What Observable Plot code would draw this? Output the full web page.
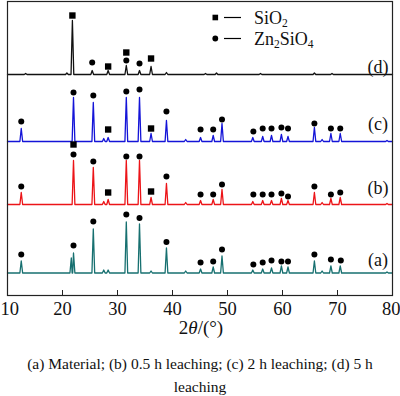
<!DOCTYPE html>
<html><head><meta charset="utf-8">
<script src="https://cdn.jsdelivr.net/npm/d3@7"></script>
<script src="https://cdn.jsdelivr.net/npm/@observablehq/plot@0.6"></script>
<style>
body{margin:0;background:#fff;}
#chart svg, #chart svg text{font-family:"Liberation Serif","Times New Roman",serif !important;}
#cap{width:400px;text-align:center;font:15.5px/23px "Liberation Serif","Times New Roman",serif;padding-top:12px;color:#111;}
</style></head><body>
<div id="chart"></div>
<div id="cap"></div>
<script>
// ---- data (2θ in degrees, intensity in arbitrary units) ----
const twoThetaTicks = [10, 20, 30, 40, 50, 60, 70, 80];
const seriesNames = ["(a)", "(b)", "(c)", "(d)"];
const seriesOffsets = [22.5, 91, 154, 221];   // vertical stacking offsets

const peaksA = [[12.5,12],[21.6,15],[22.0,20],[25.6,44],[27.5,3],[28.3,3],[31.6,51],[34.0,49],[36.1,2],[38.9,25],[42.4,2],[45.1,4],[47.4,6],[49.0,17],[54.6,3],[56.4,4],[58.0,5],[59.8,7],[61.0,6],[65.8,12],[67.2,2],[68.8,7],[70.5,7],[79.0,1]];
const peaksB = [[12.5,12],[22.0,44],[25.6,37],[27.5,3],[28.3,5],[31.6,44],[34.0,44],[36.1,7],[38.9,21],[42.4,2],[45.1,4],[47.4,5],[49.0,15],[54.6,3],[56.4,4],[58.0,4],[59.8,6],[61.0,4],[65.8,12],[67.2,2],[68.8,6],[70.5,7],[79.0,1]];
const peaksC = [[12.5,13],[22.0,44],[25.6,39],[27.5,3],[28.3,4],[31.6,44],[34.0,44],[36.1,8],[38.9,21],[42.4,2],[45.1,4],[47.4,6],[49.0,18],[54.6,4],[56.4,5],[58.0,6],[59.8,7],[61.0,5],[65.8,14],[67.2,2],[68.8,8],[70.5,8],[79.0,1]];
const peaksD = [[13.3,1],[20.8,1.5],[21.8,54],[25.4,4],[28.3,4],[31.6,9],[34.0,4],[36.1,8],[38.9,2],[46.0,1],[48.0,1.5],[56.0,1],[65.8,1.5],[69.0,1]];

// phase markers: [2θ, height above pattern baseline, phase]  S = SiO2, Z = Zn2SiO4
const markersA = [[12.5,18.5,"Z"],[22.0,27.5,"Z"],[25.6,51.5,"Z"],[31.6,58.5,"Z"],[34.0,55,"Z"],[38.9,31,"Z"],[45.1,10.5,"Z"],[47.4,11.5,"Z"],[49.0,23.5,"Z"],[54.7,8.5,"Z"],[56.4,10.5,"Z"],[58.0,12.5,"Z"],[59.8,11.5,"Z"],[61.0,11.5,"Z"],[65.8,18.5,"Z"],[68.8,13.5,"Z"],[70.6,12.5,"Z"]];
const markersB = [[12.5,18,"Z"],[22.0,50,"Z"],[22.0,60,"S"],[25.6,43,"Z"],[28.3,12,"S"],[31.6,48,"Z"],[34.0,48,"Z"],[36.1,13,"S"],[38.9,28,"Z"],[45.1,10,"Z"],[47.4,10,"Z"],[49.0,20,"Z"],[54.7,10,"Z"],[56.4,10,"Z"],[58.0,10,"Z"],[59.8,11,"Z"],[61.0,8,"Z"],[65.8,18,"Z"],[68.8,10,"Z"],[70.5,12,"Z"]];
const markersC = [[12.5,20,"Z"],[22.0,49,"Z"],[25.6,46,"Z"],[28.3,12,"S"],[31.6,50,"Z"],[34.0,52,"Z"],[36.1,13,"S"],[38.9,30,"Z"],[45.1,12,"Z"],[47.4,12,"Z"],[49.0,22,"Z"],[54.7,10,"Z"],[56.4,13,"Z"],[58.0,13,"Z"],[59.8,14,"Z"],[61.0,13,"Z"],[65.8,18,"Z"],[68.8,13,"Z"],[70.5,13,"Z"]];
const markersD = [[21.8,59,"S"],[25.4,12,"Z"],[28.3,8,"S"],[31.6,22,"S"],[31.6,14,"Z"],[34.0,11,"Z"],[36.1,16,"S"]];

const legendLabels = [["SiO", "2"], ["Zn", "2", "SiO", "4"]];
const captionText = "(a) Material; (b) 0.5 h leaching; (c) 2 h leaching; (d) 5 h leaching";

// ---- styles / layout ----
const colors = ["#177070", "#ec1418", "#1414d8", "#111111"];
const labelLift = [12.5, 16, 17.5, 7.5];
const HALF = 0.25;
const FONT = "Liberation Serif, Times New Roman, serif";

const allPeaks = [peaksA, peaksB, peaksC, peaksD];
const allMarkers = [markersA, markersB, markersC, markersD];

function profile(peaks, i) {
  const pts = [[10, 0], [80, 0]];
  for (const [p, h] of peaks) pts.push([p - HALF, 0], [p, h], [p + HALF, 0]);
  pts.sort((a, b) => a[0] - b[0]);
  return pts.map(([t, v]) => ({t, y: seriesOffsets[i] + v}));
}
const markerRows = allMarkers.flatMap((ms, i) => ms.map(([t, h, k]) => ({t, y: seriesOffsets[i] + h, k})));
const labelRows = seriesNames.map((name, i) => ({name, y: seriesOffsets[i] + labelLift[i]}));

const chart = Plot.plot({
  width: 400, height: 340,
  marginTop: 1, marginBottom: 45, marginLeft: 7, marginRight: 8,
  x: {domain: [10, 80]},
  y: {domain: [0, 294], axis: null},
  style: {fontFamily: FONT, background: "white", color: "#111", overflow: "visible"},
  marks: [
    ...allPeaks.map((pk, i) => Plot.line(profile(pk, i), {x: "t", y: "y", stroke: colors[i], strokeWidth: 1.3})),
    Plot.dot(markerRows.filter(d => d.k === "Z"), {x: "t", y: "y", r: 3, fill: "black", symbol: "circle"}),
    Plot.dot(markerRows.filter(d => d.k === "S"), {x: "t", y: "y", r: 3.6, fill: "black", symbol: "square"}),
    Plot.text(labelRows, {x: 77.36, y: "y", text: "name", fontSize: 18, textAnchor: "middle", fill: "#111", fontFamily: FONT}),
    Plot.ruleX(twoThetaTicks, {y1: 0, y2: 5, stroke: "#222"}),
    Plot.frame({stroke: "#222", strokeWidth: 1.2}),
    Plot.axisX(twoThetaTicks, {tickSize: 0, tickPadding: 6.5, fontSize: 18.5, label: null, fill: "#111", fontFamily: FONT})
  ]
});
document.getElementById("chart").appendChild(chart);
document.getElementById("cap").textContent = captionText;

const svg = d3.select(chart);
// keep the end tick labels inside the picture
const tickTexts = svg.selectAll("g[aria-label='x-axis tick label'] text").nodes();
if (tickTexts.length) {
  d3.select(tickTexts[0]).attr("text-anchor", "start").attr("dx", -7);
  d3.select(tickTexts[tickTexts.length - 1]).attr("text-anchor", "end").attr("dx", 8);
}

// x-axis title 2θ/(°)
const xt = svg.append("text").attr("x", 201).attr("y", 334).attr("text-anchor", "middle")
  .attr("font-size", 19).attr("fill", "#111");
xt.append("tspan").text("2");
xt.append("tspan").attr("font-style", "italic").text("θ");
xt.append("tspan").text("/(°)");

// legend
const lg = svg.append("g").attr("font-size", 18).attr("fill", "#111").attr("text-anchor", "start");
const rows = [{y: 17.5, sym: "square"}, {y: 38.5, sym: "circle"}];
rows.forEach((r, i) => {
  if (r.sym === "square") lg.append("rect").attr("x", 212.5).attr("y", r.y - 2.8).attr("width", 5.6).attr("height", 5.6).attr("fill", "black");
  else lg.append("circle").attr("cx", 215.3).attr("cy", r.y).attr("r", 2.9).attr("fill", "black");
  lg.append("line").attr("x1", 224).attr("x2", 241).attr("y1", r.y).attr("y2", r.y).attr("stroke", "black").attr("stroke-width", 1.2);
  const t = lg.append("text").attr("x", 254).attr("y", r.y + 6).attr("text-anchor", "start");
  legendLabels[i].forEach((p, j) => {
    const ts = t.append("tspan").text(p);
    if (j % 2 === 1) ts.attr("font-size", 11.5).attr("dy", 3);
    else if (j > 0) ts.attr("dy", -3);
  });
});
</script></body></html>
